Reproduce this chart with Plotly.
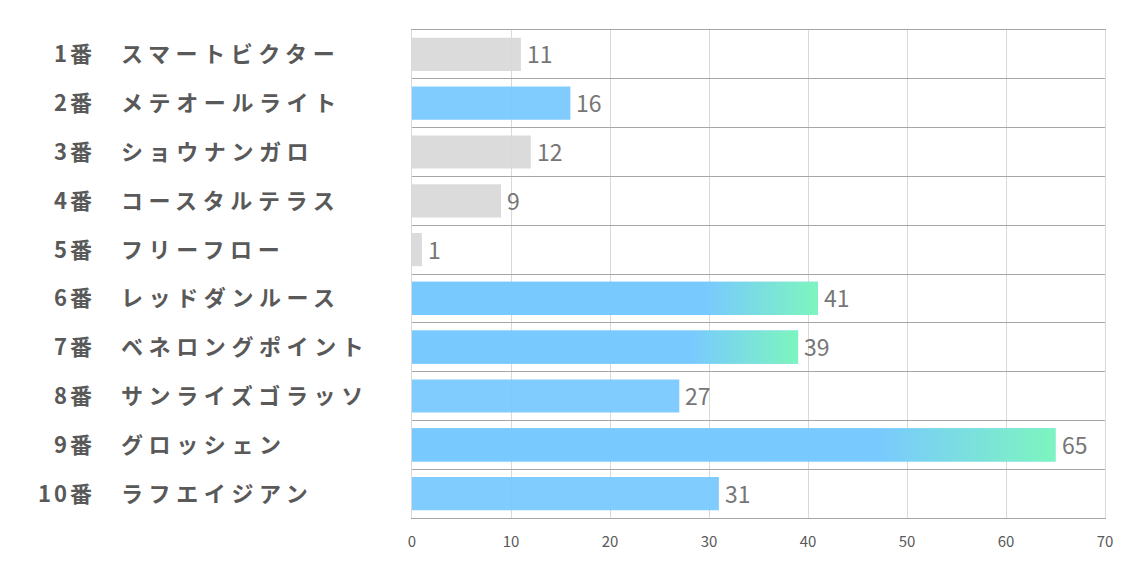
import plotly.graph_objects as go

numbers = ["1番", "2番", "3番", "4番", "5番", "6番", "7番", "8番", "9番", "10番"]
names = ["スマートビクター", "メテオールライト", "ショウナンガロ", "コースタルテラス", "フリーフロー",
         "レッドダンルース", "ベネロングポイント", "サンライズゴラッソ", "グロッシェン", "ラフエイジアン"]
values = [11, 16, 12, 9, 1, 41, 39, 27, 65, 31]
kinds = ["gray", "blue", "gray", "gray", "gray", "grad", "grad", "blue", "grad", "blue"]
xticks = [0, 10, 20, 30, 40, 50, 60, 70]

GRAY = "#D9D9D9"
BLUE = "#78C9FF"
GREEN = "#7CF8BA"
BAR_W = 0.68
FONT = "Noto Sans CJK JP"

pos = list(range(1, len(values) + 1))
colors = [GRAY if k == "gray" else BLUE for k in kinds]

fig = go.Figure()
fig.add_trace(go.Bar(
    x=values, y=pos, orientation="h", width=BAR_W,
    marker=dict(color=colors, line=dict(width=0)), opacity=0.93,
    hoverinfo="skip",
))

for p, v, k in zip(pos, values, kinds):
    if k != "grad":
        continue
    y0, y1 = p - BAR_W / 2, p + BAR_W / 2
    fig.add_trace(go.Scatter(
        x=[0, v, v, 0, 0], y=[y0, y0, y1, y1, y0], mode="lines",
        line=dict(width=0), fill="toself", opacity=0.93,
        fillgradient=dict(type="horizontal",
                          colorscale=[[0, BLUE], [0.72, BLUE], [1, GREEN]]),
        hoverinfo="skip", showlegend=False,
    ))

for p, v in zip(pos, values):
    fig.add_annotation(x=v, y=p, text=str(v), showarrow=False, xanchor="left", xshift=4, yshift=1,
                       font=dict(family=FONT, size=23, color="#767676"))

for p, n, nm in zip(pos, numbers, names):
    fig.add_annotation(x=-0.459, xref="paper", y=p, yref="y",
                       text='<span style="letter-spacing:3px">' + n + '</span>', showarrow=False, yshift=2,
                       xanchor="right", xshift=3,
                       font=dict(family=FONT, size=22, color="#595959", weight="bold"))
    fig.add_annotation(x=-0.424, xref="paper", y=p, yref="y",
                       text='<span style="letter-spacing:5.6px">' + nm + '</span>', showarrow=False, yshift=2,
                       xanchor="left", xshift=1,
                       font=dict(family=FONT, size=22, color="#595959", weight="bold"))

fig.update_layout(
    width=1134, height=567, showlegend=False,
    margin=dict(l=412, r=29, t=30, b=49),
    plot_bgcolor="white", paper_bgcolor="white",
    xaxis=dict(range=[0, 70], tickvals=xticks, showgrid=True, gridcolor="#D9D9D9", gridwidth=1,
               zeroline=False, showline=True, mirror=True, linecolor="#A6A6A6", linewidth=1,
               ticks="", ticklen=0, ticklabelstandoff=10,
               tickfont=dict(family=FONT, size=15, color="#595959")),
    yaxis=dict(range=[10.5, 0.5], tickvals=[i + 0.5 for i in range(0, 11)], showticklabels=False,
               showgrid=True, gridcolor="#A6A6A6", gridwidth=1, zeroline=False,
               showline=True, mirror=True, linecolor="#D9D9D9", linewidth=1, ticks=""),
)

fig.write_html("out.html")
